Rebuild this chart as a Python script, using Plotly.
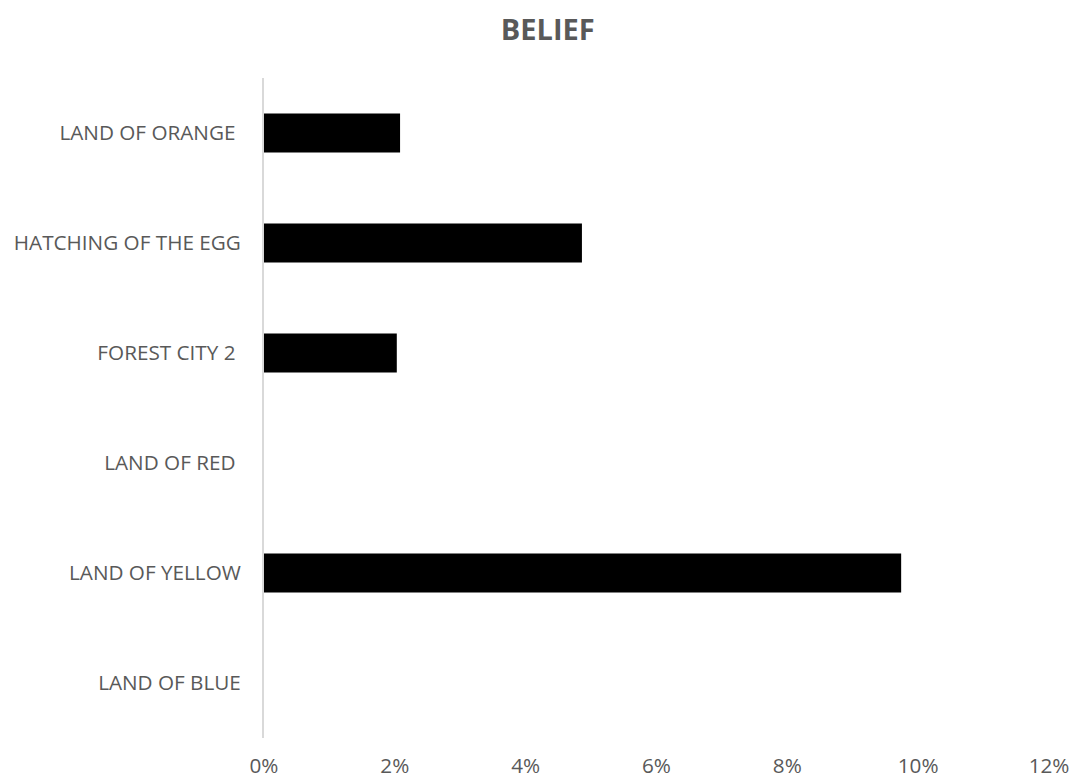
import plotly.graph_objects as go

# categories top to bottom (some source labels carry a trailing space)
places = ["LAND OF ORANGE\u00a0", "HATCHING OF THE EGG", "FOREST CITY 2\u00a0",
          "LAND OF RED\u00a0", "LAND OF YELLOW", "LAND OF BLUE"]
belief = [0.0208, 0.0486, 0.0203, 0.0, 0.0974, 0.0]
x_ticks = [0, 0.02, 0.04, 0.06, 0.08, 0.10, 0.12]

fig = go.Figure(go.Bar(
    x=belief, y=places, orientation="h",
    marker=dict(color="#000000", line=dict(width=0)),
))

# page body adds an 8px margin, so the figure is a bit smaller than the window
fig.update_layout(
    width=1073, height=772,
    margin=dict(l=256, r=32, t=70, b=42),
    paper_bgcolor="white", plot_bgcolor="white",
    font=dict(family="Open Sans", size=20.7, color="#595959"),
    title=dict(text="<b>BELIEF</b>", x=0.503, xanchor="center",
               y=0.972, yanchor="middle",
               font=dict(family="Open Sans", size=29, color="#595959")),
    bargap=0.645,
    showlegend=False,
)
fig.update_xaxes(range=[0, 0.12], tickvals=x_ticks, tickformat=".0%",
                 showgrid=False, zeroline=False, showline=False,
                 automargin=False, ticklabelstandoff=13)
fig.update_yaxes(autorange="reversed", showgrid=False, zeroline=False,
                 showline=True, linecolor="#d9d9d9", linewidth=2,
                 ticks="", automargin=False, ticklabelstandoff=17)

fig.write_html("out.html")
